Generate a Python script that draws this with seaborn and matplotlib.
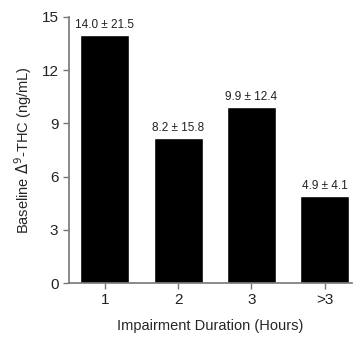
import matplotlib
matplotlib.use("Agg")
import matplotlib.pyplot as plt
import seaborn as sns
import pandas as pd

# data
durations = ["1", "2", "3", ">3"]
thc_means = [14.0, 8.2, 9.9, 4.9]
thc_sds = [21.5, 15.8, 12.4, 4.1]

sns.set_style("ticks")
plt.rcParams["font.family"] = ["Liberation Sans", "DejaVu Sans"]

df = pd.DataFrame({"Duration": durations, "THC": thc_means})

fig = plt.figure(figsize=(3.53, 3.37), dpi=100)
ax = fig.add_axes([0.195, 0.16, 0.802, 0.79])

sns.barplot(data=df, x="Duration", y="THC", color="black", width=0.67,
            saturation=1, ax=ax)

# mean ± sd labels above each bar
for i, (m, s) in enumerate(zip(thc_means, thc_sds)):
    ax.text(i, m + 0.22, f"{m:.1f} ± {s:.1f}", ha="center", va="bottom",
            fontsize=8.5, color="#222222")

ax.set_ylim(0, 15)
ax.set_yticks([0, 3, 6, 9, 12, 15])
ax.set_xlim(-0.49, 3.37)
ax.set_xlabel("Impairment Duration (Hours)", fontsize=10.5, labelpad=8)
ax.set_ylabel("Baseline $\\Delta^9$-THC (ng/mL)", fontsize=10.5, labelpad=5)
ax.tick_params(axis="both", labelsize=11, colors="#777777", labelcolor="#222222",
               length=4, width=1)
for side in ["left", "bottom"]:
    ax.spines[side].set_color("#777777")
    ax.spines[side].set_linewidth(1.2)
sns.despine(ax=ax)

fig.savefig("out.png", dpi=100)
